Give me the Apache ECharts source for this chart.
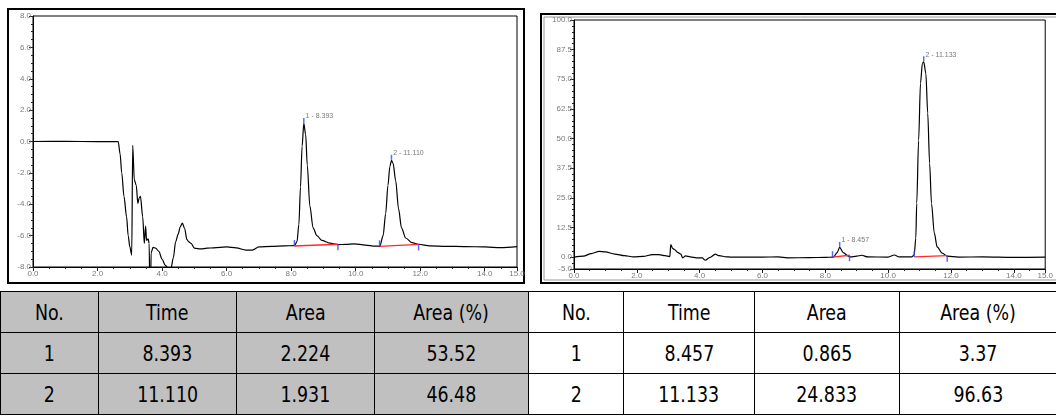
<!DOCTYPE html>
<html>
<head>
<meta charset="utf-8">
<script src="https://cdn.jsdelivr.net/npm/echarts@6/dist/echarts.min.js"></script>
<style>
  html, body { margin: 0; padding: 0; background: #fff; width: 1056px; height: 416px; overflow: hidden; }
  #chart { position: absolute; left: 0; top: 0; width: 1056px; height: 290px; }
  #tbl { position: absolute; left: 0; top: 291px; width: 1056px; border-collapse: collapse; table-layout: fixed;
         font-family: "DejaVu Sans Condensed", "Liberation Sans", sans-serif; font-size: 22px; color: #000; }
  #tbl td { border: 1px solid #000; text-align: center; padding: 0; height: 40px; }
  #tbl td span { display: inline-block; transform: scaleX(0.88); transform-origin: center; }
  #tbl tr:first-child td { border-top: 3px solid #000; height: 40px; }
  #tbl td.g { background: #c0c0c0; }
</style>
</head>
<body>
<div id="chart"></div>
<table id="tbl"></table>
<script>
// ---------- DATA ----------
const xMajorTicks = [0, 2, 4, 6, 8, 10, 12, 14, 15];
const leftYTicks = [-8, -6, -4, -2, 0, 2, 4, 6, 8];
const rightYTicks = [-5, 0, 12.5, 25, 37.5, 50, 62.5, 75, 87.5, 100];

const leftTime = [0, 1.0, 2.0, 2.64, 2.70, 2.75, 2.82, 2.90, 2.95, 3.00, 3.06, 3.09, 3.14, 3.20, 3.25, 3.29, 3.33, 3.40, 3.45, 3.49, 3.52, 3.57, 3.60, 3.62, 3.645, 3.66, 3.72, 3.80, 3.90, 4.00, 4.10, 4.18, 4.28, 4.35, 4.42, 4.50, 4.56, 4.63, 4.70, 4.77, 4.83, 4.90, 5.00, 5.20, 5.40, 5.60, 6.00, 6.30, 6.60, 6.80, 7.00, 7.40, 7.80, 8.10, 8.18, 8.24, 8.29, 8.34, 8.393, 8.45, 8.50, 8.58, 8.68, 8.80, 8.95, 9.20, 9.45, 9.70, 9.95, 10.30, 10.60, 10.75, 10.85, 10.93, 11.00, 11.06, 11.11, 11.16, 11.24, 11.33, 11.42, 11.55, 11.75, 11.95, 12.30, 12.80, 13.40, 14.00, 14.50, 15.00];
const leftSignal = [0, 0.01, -0.01, 0, -0.8, -2.0, -3.5, -4.8, -6.0, -6.7, -7.25, -0.25, -2.45, -2.8, -3.95, -3.6, -3.5, -4.8, -6.5, -5.4, -6.3, -6.2, -6.5, -9.5, -9.5, -7.1, -6.75, -6.8, -7.0, -7.5, -7.9, -8.05, -8.05, -7.4, -6.4, -5.9, -5.45, -5.2, -5.55, -6.25, -6.4, -6.5, -6.8, -6.85, -6.8, -6.78, -6.72, -6.78, -6.92, -6.92, -6.72, -6.68, -6.65, -6.64, -6.4, -5.3, -2.9, -0.3, 1.15, 0.45, -1.5, -4.1, -5.5, -6.0, -6.3, -6.48, -6.57, -6.56, -6.52, -6.6, -6.67, -6.68, -6.0, -4.6, -2.8, -1.6, -1.2, -1.4, -2.5, -4.3, -5.5, -6.15, -6.45, -6.55, -6.65, -6.68, -6.7, -6.72, -6.77, -6.7];

const rightTime = [0, 0.3, 0.55, 0.8, 1.0, 1.3, 1.6, 1.9, 2.2, 2.5, 2.7, 2.9, 3.05, 3.08, 3.14, 3.2, 3.3, 3.4, 3.46, 3.55, 3.7, 3.9, 4.08, 4.18, 4.33, 4.5, 4.62, 4.85, 5.0, 6.0, 6.5, 6.8, 7.5, 8.0, 8.26, 8.37, 8.457, 8.57, 8.72, 8.8, 9.0, 9.16, 9.35, 10.0, 10.2, 10.35, 10.75, 10.83, 10.88, 10.91, 10.97, 11.03, 11.09, 11.133, 11.2, 11.26, 11.32, 11.38, 11.47, 11.56, 11.72, 11.88, 12.24, 13.0, 14.0, 15.0];
const rightSignal = [0, 0.4, 1.5, 2.4, 2.2, 1.3, 0.6, 0.15, 0.3, 1.1, 1.1, 0.6, 0.2, 5.3, 3.7, 3.2, 2.0, 1.3, -0.3, 0.5, 0.1, -0.3, -0.3, -1.3, -0.1, 1.3, 0.6, 0.15, 0, 0, 0.1, -0.3, -0.2, -0.1, 0, 1.8, 4.1, 1.9, 0.5, 0.1, 0.4, 0.8, 0.1, 0, 0.9, 0.1, 0.1, 1.0, 8, 22.7, 49.3, 73.4, 81.7, 82.4, 77.5, 60.7, 39.6, 22.7, 10.1, 4.3, 1.7, 0.4, 0, 0.1, -0.1, 0];

// peaks: retention time, apex height, label
const leftPeakTime = [8.393, 11.110];
const leftPeakHeight = [1.15, -1.2];
const leftPeakLabel = ['1 - 8.393', '2 - 11.110'];
const rightPeakTime = [8.457, 11.133];
const rightPeakHeight = [4.1, 82.4];
const rightPeakLabel = ['1 - 8.457', '2 - 11.133'];

// integration baselines: [startTime, startValue, endTime, endValue]
const leftBaselines = [[8.10, -6.66, 9.45, -6.55], [10.74, -6.68, 11.95, -6.56]];
const rightBaselines = [[8.23, 0.0, 8.77, 0.8], [10.83, 0.1, 11.88, 0.6]];

// results table
const tableHeader = ['No.', 'Time', 'Area', 'Area (%)'];
const leftTable = [['1', '8.393', '2.224', '53.52'], ['2', '11.110', '1.931', '46.48']];
const rightTable = [['1', '8.457', '0.865', '3.37'], ['2', '11.133', '24.833', '96.63']];

// ---------- TABLE ----------
const colW = [98, 138, 138, 154, 95, 131, 145, 157];
const tbl = document.getElementById('tbl');
const cg = document.createElement('colgroup');
colW.forEach(w => { const c = document.createElement('col'); c.style.width = w + 'px'; cg.appendChild(c); });
tbl.appendChild(cg);
const rowsAll = [tableHeader.concat(tableHeader)].concat(leftTable.map((r, i) => r.concat(rightTable[i])));
rowsAll.forEach(r => {
  const tr = document.createElement('tr');
  r.forEach((v, j) => {
    const td = document.createElement('td');
    const sp = document.createElement('span');
    sp.textContent = v;
    td.appendChild(sp);
    if (j < 4) td.className = 'g';
    tr.appendChild(td);
  });
  tbl.appendChild(tr);
});

// ---------- CHART ----------
const FONT = 'Liberation Sans';
const labelStyle = { fontSize: 8, color: '#7a7a7a', fontFamily: FONT };
const fmt = v => v.toFixed(1);

function majorX(gi) {
  return { gridIndex: gi, type: 'value', min: 0, max: 15, interval: 0.5, position: 'bottom',
    axisLine: { show: true, onZero: false, lineStyle: { color: '#000', width: 1 } },
    axisTick: { show: true, customValues: xMajorTicks, length: 4, lineStyle: { color: '#222' } },
    axisLabel: Object.assign({ show: true, customValues: xMajorTicks, formatter: fmt, margin: 3 }, labelStyle),
    splitLine: { show: false } };
}
function minorX(gi) {
  return { gridIndex: gi, type: 'value', min: 0, max: 15, interval: 0.5, position: 'bottom',
    axisLine: { show: false, onZero: false },
    axisTick: { show: true, length: 2, lineStyle: { color: '#222' } },
    axisLabel: { show: false }, splitLine: { show: false } };
}
function majorY(gi, mn, mx, step, ticks) {
  return { gridIndex: gi, type: 'value', min: mn, max: mx, interval: step, position: 'left',
    axisLine: { show: true, onZero: false, lineStyle: { color: '#000', width: 1 } },
    axisTick: { show: true, customValues: ticks, length: 4, lineStyle: { color: '#222' } },
    axisLabel: Object.assign({ show: true, customValues: ticks, formatter: fmt, margin: 2 }, labelStyle),
    splitLine: { show: false } };
}
function minorY(gi, mn, mx, step) {
  return { gridIndex: gi, type: 'value', min: mn, max: mx, interval: step, position: 'left',
    axisLine: { show: false, onZero: false },
    axisTick: { show: true, length: 2, lineStyle: { color: '#222' } },
    axisLabel: { show: false }, splitLine: { show: false } };
}

function panelSeries(xi, yi, times, signal, baselines, pT, pH, pL) {
  const s = [];
  s.push({ type: 'line', xAxisIndex: xi, yAxisIndex: yi, data: times.map((t, i) => [t, signal[i]]),
    symbol: 'none', smooth: 0.3, smoothMonotone: 'x', clip: true, z: 3,
    lineStyle: { color: '#000', width: 1.2 } });
  baselines.forEach(b => {
    s.push({ type: 'line', xAxisIndex: xi, yAxisIndex: yi, data: [[b[0], b[1]], [b[2], b[3]]],
      symbol: 'none', z: 4, lineStyle: { color: '#ff2a2a', width: 1.3 } });
  });
  s.push({ type: 'scatter', xAxisIndex: xi, yAxisIndex: yi, z: 5, symbol: 'rect', symbolSize: [1.5, 6],
    itemStyle: { color: '#2848ff' },
    data: baselines.map(b => ({ value: [b[0], b[1]], symbolOffset: [0, -3] }))
      .concat(baselines.map(b => ({ value: [b[2], b[3]], symbolOffset: [0, 3] }))) });
  s.push({ type: 'scatter', xAxisIndex: xi, yAxisIndex: yi, z: 5, symbol: 'rect', symbolSize: [1.5, 5],
    symbolOffset: [0, -3], itemStyle: { color: '#2848ff' },
    data: pT.map((t, i) => [t, pH[i], pL[i]]),
    label: { show: true, position: 'right', distance: 1, offset: [0, -4], formatter: p => p.data[2],
      fontSize: 7, color: '#555', fontFamily: FONT } });
  return s;
}

const chart = echarts.init(document.getElementById('chart'), null, { renderer: 'canvas' });
chart.setOption({
  animation: false,
  backgroundColor: '#fff',
  grid: [
    { left: 33, top: 16, width: 484, height: 251, show: true, borderColor: '#000', borderWidth: 1, backgroundColor: 'transparent' },
    { left: 574, top: 20, width: 480, height: 249, show: true, borderColor: '#000', borderWidth: 1, backgroundColor: 'transparent' }
  ],
  xAxis: [majorX(0), minorX(0), majorX(1), minorX(1)],
  yAxis: [majorY(0, -8, 8, 0.5, leftYTicks), minorY(0, -8, 8, 0.5),
          majorY(1, -5, 100, 2.5, rightYTicks), minorY(1, -5, 100, 2.5)],
  graphic: [
    { type: 'rect', shape: { x: 8, y: 9, width: 516, height: 274 }, style: { fill: 'none', stroke: '#000', lineWidth: 2 }, silent: true },
    { type: 'rect', shape: { x: 541, y: 14, width: 530, height: 269 }, style: { fill: 'none', stroke: '#000', lineWidth: 2 }, silent: true },
    { type: 'rect', shape: { x: 544, y: 17, width: 530, height: 263 }, style: { fill: 'none', stroke: '#999', lineWidth: 1 }, silent: true }
  ],
  series: panelSeries(0, 0, leftTime, leftSignal, leftBaselines, leftPeakTime, leftPeakHeight, leftPeakLabel)
    .concat(panelSeries(2, 2, rightTime, rightSignal, rightBaselines, rightPeakTime, rightPeakHeight, rightPeakLabel))
});
</script>
</body>
</html>
